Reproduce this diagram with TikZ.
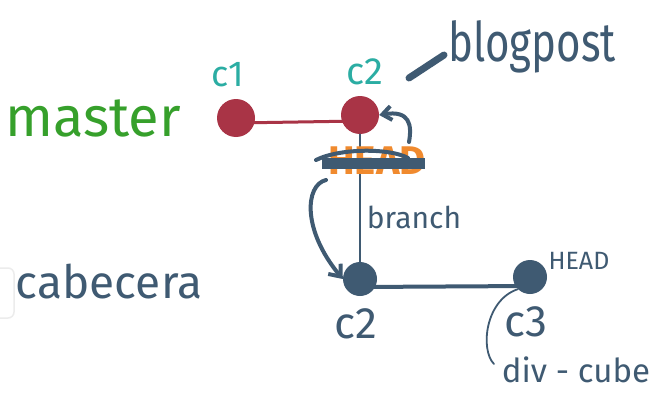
\documentclass[tikz,border=0pt]{standalone}
\usepackage{fontspec}
\setmainfont{Fira Sans}
\usetikzlibrary{arrows.meta}
\definecolor{slate}{HTML}{3F5A72}
\definecolor{mgreen}{HTML}{36A02B}
\definecolor{teal2}{HTML}{2BADA3}
\definecolor{cred}{HTML}{A93446}
\definecolor{orng}{HTML}{F08A2E}
\tikzset{
  redcommit/.style={circle,fill=cred,minimum size=38pt,inner sep=0pt},
  darkcommit/.style={circle,fill=slate,minimum size=34pt,inner sep=0pt},
  lbl/.style={inner sep=0pt,font=\fontsize{#1}{#1}\selectfont},
  pen/.style={draw=slate,line cap=round,line join=round}
}
\begin{document}
\begin{tikzpicture}[x=1pt,y=-1pt]
\useasboundingbox[fill=white] (0,0) rectangle (671,404);
% faint frame at left edge
\draw[gray!15,line width=1.5pt,rounded corners=6pt] (-10,268) rectangle (14,318);
% labels on the left
\node[lbl=56,text=mgreen,anchor=base] (master) at (93,136) {master};
\node[lbl=46,text=slate,anchor=base] (cabecera) at (109,298) {cabecera};
% master commits
\node[redcommit] (c1) at (236,118) {};
\node[redcommit] (c2top) at (360,115) {};
\draw[cred,line width=3pt] ([yshift=-5pt]c1.center) -- ([yshift=-6pt]c2top.center);
\node[lbl=36,text=teal2,anchor=base] (c1l) at (228,86) {c1};
\node[lbl=38,text=teal2,anchor=base] (c2l) at (365,84) {c2};
% blogpost tag
\node[lbl=42,text=slate,anchor=base,yscale=1.3] (blog) at (532,62) {blogpost};
\coordinate (bs) at (409,78);
\coordinate (be) at (444,55);
\draw[pen,line width=7pt] (bs) -- (be);
% bottom commits
\node[darkcommit] (c2b) at (360,279) {};
\node[darkcommit] (c3) at (530,277) {};
\draw[pen,line width=4pt] ([yshift=-8pt]c2b.center) -- ([yshift=-9pt]c3.center);
\draw[pen,line width=1.6pt] (c2top) -- (c2b);
% crossed out HEAD
\node[inner sep=0pt,text=orng,font=\bfseries\fontsize{40}{40}\selectfont] (oldhead) at (377,161) {HEAD};
\draw[pen,line width=11pt,line cap=butt] (322,163) -- (425,163);
\draw[pen,line width=4pt] (316,160) .. controls (340,148) and (390,148) .. (408,158);
% move arrow up
\coordinate (ua) at (409,142);
\draw[pen,line width=4pt,-{Straight Barb[length=9pt,width=14pt]}] (ua) .. controls (412,125) and (410,110) .. (c2top.east);
% branch label
\node[lbl=30,text=slate,anchor=base] (branch) at (414,228) {branch};
% curved arrow to new commit
\coordinate (la) at (326,180);
\draw[pen,line width=4pt,-{Straight Barb[length=10pt,width=16pt]}] (la) .. controls (305,185) and (302,230) .. (c2b.west);
% bottom labels
\node[lbl=44,text=slate,anchor=base] (c2bl) at (356,338) {c2};
\node[lbl=44,text=slate,anchor=base] (c3l) at (526,336) {c3};
\node[lbl=25,text=slate,anchor=base] (headl) at (579,269) {HEAD};
\node[lbl=33,text=slate,anchor=base] (divc) at (576,382) {div - cube};
\coordinate (bk) at (494,364);
\draw[pen,line width=1.8pt] (c3.south west) .. controls (485,300) and (480,350) .. (bk);
\end{tikzpicture}
\end{document}
